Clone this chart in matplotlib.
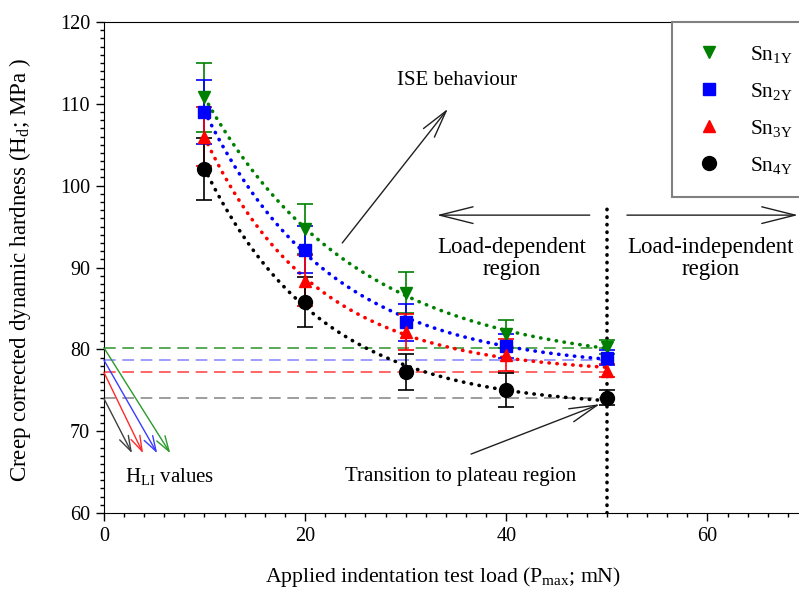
import numpy as np
import matplotlib
matplotlib.use('Agg')
import matplotlib.pyplot as plt
from matplotlib.lines import Line2D
from matplotlib.ticker import MultipleLocator

plt.rcParams['font.family'] = ['Liberation Serif', 'DejaVu Serif']
plt.rcParams['mathtext.default'] = 'regular'

# data
load = np.array([10, 20, 30, 40, 50])
names = ['Sn$_{1Y}$', 'Sn$_{2Y}$', 'Sn$_{3Y}$', 'Sn$_{4Y}$']
hd_1y = [110.8, 94.7, 86.9, 81.9, 80.3]
err_1y = [4.2, 3.0, 2.5, 1.7, 0.9]
hd_2y = [109.0, 92.2, 83.3, 80.4, 79.0]
err_2y = [3.9, 2.9, 2.3, 1.5, 0.9]
hd_3y = [106.0, 88.4, 82.1, 79.3, 77.4]
err_3y = [3.6, 3.1, 2.2, 2.0, 0.8]
hd_4y = [102.0, 85.8, 77.2, 75.0, 74.1]
err_4y = [3.8, 3.1, 2.2, 2.1, 0.9]
h_li = [80.2, 78.7, 77.2, 74.0]

series = [hd_1y, hd_2y, hd_3y, hd_4y]
errors = [err_1y, err_2y, err_3y, err_4y]
colors = ['#008000', '#0000ff', '#ff0000', '#000000']
dash_colors = ['#3c9c3c', '#8c8cff', '#ff4c4c', '#8c8c8c']
arrow_colors = ['#2a9a2a', '#3c3cff', '#ff2a2a', '#404040']
markers = ['v', 's', '^', 'o']
sizes = [9, 8.5, 9, 10]


def fit_decay(x, y):
    # y = a + b*exp(-k*x), scan k and solve a,b by least squares
    best = None
    for k in np.linspace(0.01, 0.3, 600):
        m = np.column_stack([np.ones(len(x)), np.exp(-k * x)])
        coef = np.linalg.lstsq(m, y, rcond=None)[0]
        r = np.sum((m @ coef - y) ** 2)
        if best is None or r < best[0]:
            best = (r, k, coef)
    return best[1], best[2]


fig = plt.figure(figsize=(7.99, 5.9), dpi=100)
ax = fig.add_axes([0.130, 0.1305, 0.8813, 0.8322])

xs = np.linspace(10, 50, 200)
for y, c in zip(series, colors):
    k, coef = fit_decay(load.astype(float), np.array(y))
    ax.plot(xs, coef[0] + coef[1] * np.exp(-k * xs), color=c, lw=2.6,
            linestyle=(0, (0.1, 2.1)), dash_capstyle='round', zorder=2)

for hl, c in zip(h_li, dash_colors):
    ax.plot([0, 50], [hl, hl], color=c, lw=1.2, linestyle=(0, (7, 4)), zorder=1)

for y, e, c, mk, ms in zip(series, errors, colors, markers, sizes):
    ax.errorbar(load, y, yerr=e, fmt=mk, color=c, ms=ms, capsize=6,
                elinewidth=1.2, capthick=1.2, zorder=3)

# vertical boundary at 50 mN
ax.plot([50, 50], [60, 97.2], color='black', lw=2.6,
        linestyle=(0, (0.1, 2.0)), dash_capstyle='round', zorder=2)

# H_LI arrows
for hl, c, tx in zip(h_li, arrow_colors, [6.6, 5.3, 3.9, 2.8]):
    ax.annotate('', xy=(tx, 67.3), xytext=(0, hl),
                arrowprops=dict(arrowstyle='->,head_length=1.1,head_width=0.35',
                                color=c, lw=1.0, shrinkA=0, shrinkB=0,
                                mutation_scale=10))

ax.text(6.5, 64.4, 'H$_{LI}$ values', fontsize=15, ha='center', va='center')

ax.annotate('', xy=(34.2, 109.4), xytext=(23.7, 93.0),
            arrowprops=dict(arrowstyle='->,head_length=2.0,head_width=0.5',
                            color='#202020', lw=1.0, shrinkA=0, shrinkB=0,
                            mutation_scale=10))
ax.text(35.1, 112.8, 'ISE behaviour', fontsize=15, ha='center', va='center')

ax.annotate('', xy=(33.1, 96.4), xytext=(48.3, 96.4),
            arrowprops=dict(arrowstyle='->,head_length=2.4,head_width=0.6',
                            color='#202020', lw=1.0, shrinkA=0, shrinkB=0,
                            mutation_scale=10))
ax.annotate('', xy=(69.0, 96.4), xytext=(52.0, 96.4),
            arrowprops=dict(arrowstyle='->,head_length=2.4,head_width=0.6',
                            color='#202020', lw=1.0, shrinkA=0, shrinkB=0,
                            mutation_scale=10))
ax.text(40.5, 91.1, 'Load-dependent\nregion', fontsize=16.5, ha='center',
        va='center', linespacing=1.1)
ax.text(60.3, 91.1, 'Load-independent\nregion', fontsize=16.5, ha='center',
        va='center', linespacing=1.1)

ax.annotate('', xy=(49.3, 73.3), xytext=(36.5, 67.2),
            arrowprops=dict(arrowstyle='->,head_length=2.0,head_width=0.5',
                            color='#202020', lw=1.0, shrinkA=0, shrinkB=0,
                            mutation_scale=10))
ax.text(35.5, 64.4, 'Transition to plateau region', fontsize=15,
        ha='center', va='center')

ax.set_xlim(0, 70)
ax.set_ylim(60, 120)
ax.xaxis.set_major_locator(MultipleLocator(20))
ax.xaxis.set_minor_locator(MultipleLocator(2))
ax.yaxis.set_major_locator(MultipleLocator(10))
ax.yaxis.set_minor_locator(MultipleLocator(1))
ax.tick_params(which='major', direction='out', length=6, width=1,
               labelsize=14.5, pad=4, top=False, right=False)
ax.tick_params(which='minor', direction='out', length=3, width=1,
               top=False, right=False)
ax.spines['right'].set_visible(False)

ax.set_xlabel('Applied indentation test load (P$_{max}$; mN)', fontsize=15.7)
ax.xaxis.set_label_coords(0.481, -0.105)
ax.set_ylabel('Creep corrected dynamic hardness (H$_{d}$; MPa )', fontsize=16.5)
ax.yaxis.set_label_coords(-0.10, 0.495)

handles = [Line2D([], [], linestyle='none', marker=mk, color=c, ms=ms)
           for c, mk, ms in zip(colors, markers, sizes)]
leg = ax.legend(handles, names, loc='upper left',
                bbox_to_anchor=(672 / 799, 1 - 22 / 590),
                bbox_transform=fig.transFigure, fontsize=15.5,
                borderpad=1.0, borderaxespad=0, handlelength=1.4,
                handletextpad=1.2, labelspacing=0.75,
                fancybox=False, framealpha=1)
leg.get_frame().set_edgecolor('#808080')
leg.get_frame().set_linewidth(1.5)

fig.savefig('out.png', dpi=100)
